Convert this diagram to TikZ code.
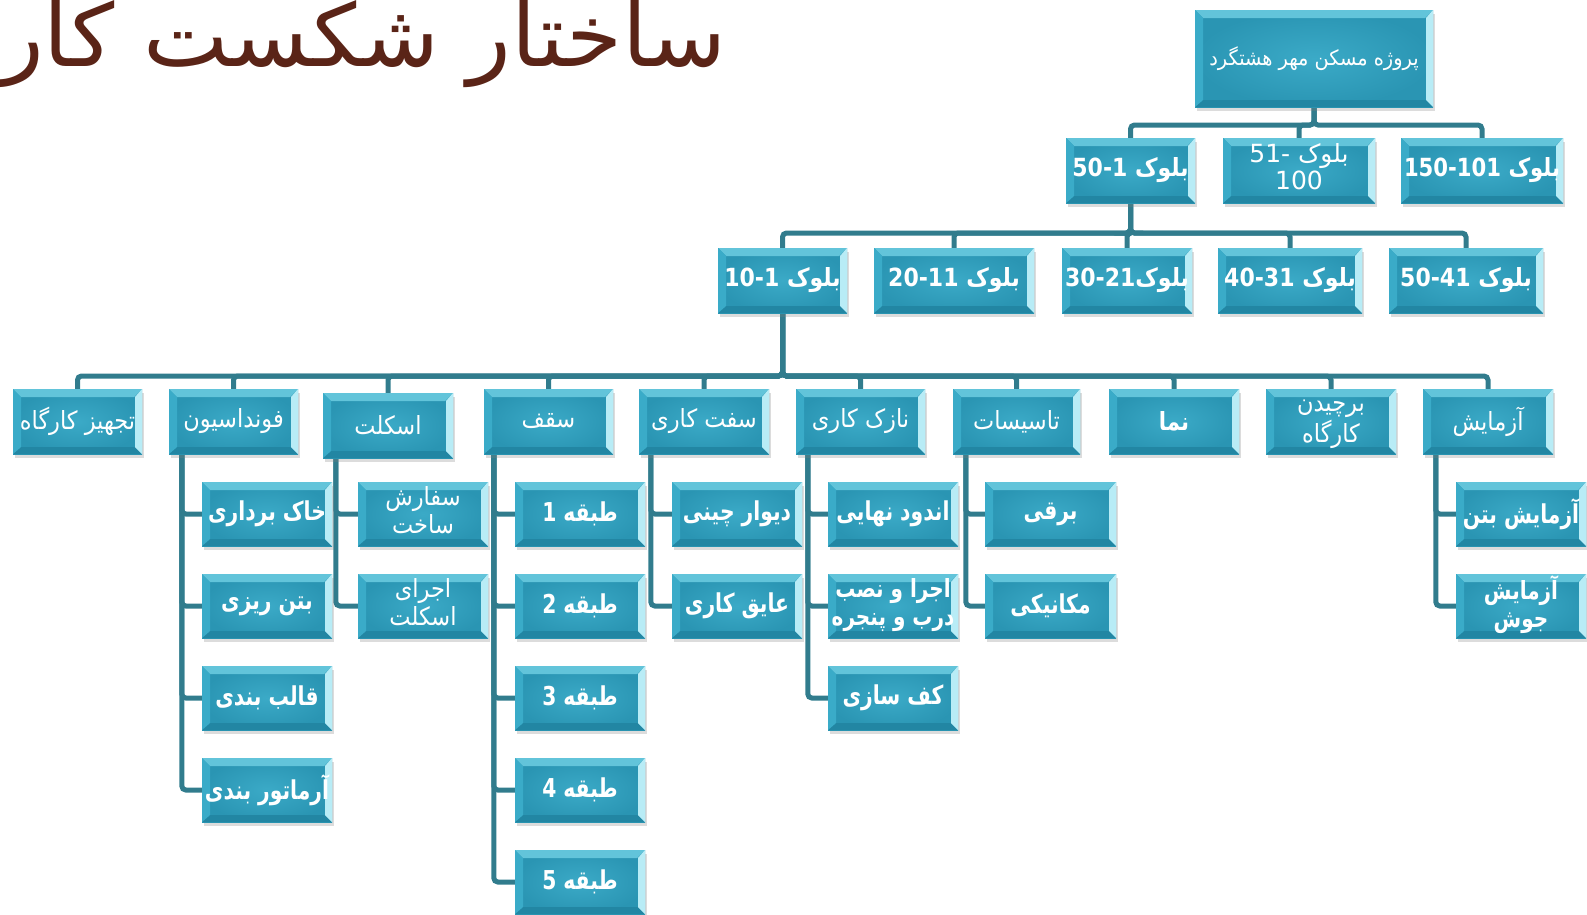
\documentclass[tikz,border=0pt]{standalone}
\usepackage{fontspec}
\usetikzlibrary{shadows,backgrounds}
\TeXXeTstate=1
\newfontfamily\arfont[Script=Arabic]{DejaVu Sans}
\definecolor{boxin}{HTML}{3BAAC7}
\definecolor{boxout}{HTML}{2A95B3}
\definecolor{bevT}{HTML}{62C4DA}
\definecolor{bevL}{HTML}{3AABC8}
\definecolor{bevR}{HTML}{B8ECF6}
\definecolor{bevB}{HTML}{2286A3}
\definecolor{connc}{HTML}{317C8D}
\definecolor{titlec}{HTML}{5A2417}
\newsavebox\fitb
\def\cx{0.8}
% scale text horizontally by \cx, or more if it is still wider than #1
\newcommand\fitw[2]{\sbox\fitb{#2}\ifdim\cx\wd\fitb>#1\resizebox{#1}{\height}{\usebox\fitb}\else\scalebox{\cx}[1]{\usebox\fitb}\fi}
\newcommand\RT[1]{\beginR#1\endR}
\newcommand\twol[2]{\begin{tabular}{@{}c@{}}#1\\#2\end{tabular}}
\newcommand\pb{path picture bounding box}
\tikzset{
  tb/.style={shade, shading=radial, inner color=boxin, outer color=boxout,
    inner sep=0pt, minimum width=129pt, minimum height=65pt,
    text=white, font=\arfont\fontsize{26}{28}\selectfont\bfseries\def\cx{0.78},
    drop shadow={shadow xshift=2pt, shadow yshift=-4pt, opacity=0.28},
    path picture={
      \fill[bevT] (\pb.north west) -- (\pb.north east) -- ([shift={(-8pt,-8pt)}]\pb.north east) -- ([shift={(8pt,-8pt)}]\pb.north west) -- cycle;
      \fill[bevB] (\pb.south west) -- (\pb.south east) -- ([shift={(-7pt,7pt)}]\pb.south east) -- ([shift={(8pt,7pt)}]\pb.south west) -- cycle;
      \fill[bevL] (\pb.north west) -- (\pb.south west) -- ([shift={(8pt,7pt)}]\pb.south west) -- ([shift={(8pt,-8pt)}]\pb.north west) -- cycle;
      \fill[bevR] (\pb.north east) -- (\pb.south east) -- ([shift={(-7pt,7pt)}]\pb.south east) -- ([shift={(-7pt,-8pt)}]\pb.north east) -- cycle;
    }},
  lone/.style={tb, font=\arfont\fontsize{25}{27}\selectfont\bfseries\def\cx{0.88}},
  lthree/.style={tb, font=\arfont\fontsize{25}{28}\selectfont\def\cx{0.9}},
  ltwo/.style={tb, minimum height=64pt, minimum width=130pt, font=\arfont\fontsize{25}{28}\selectfont\def\cx{0.9}},
  lfour/.style={tb, minimum height=64pt, minimum width=130pt},
  conn/.style={draw=connc, line width=5pt, rounded corners=4pt},
}
\begin{document}
\begin{tikzpicture}[x=1pt,y=-1pt]
\useasboundingbox (0,0) rectangle (1587,914);
% title
\node[anchor=base west, text=titlec, font=\arfont\fontsize{118}{118}\selectfont, inner sep=0pt] (title) at (0,66) {\resizebox{726pt}{66pt}{\RT{ساختار شکست کار}}};
% root
\node[tb, minimum width=238pt, minimum height=97pt, font=\arfont\fontsize{21}{24}\selectfont\def\cx{0.92}] (root) at (1314,58.5) {\fitw{224pt}{\RT{پروژه مسکن مهر هشتگرد}}};
% level 1
\node[lone, minimum width=162pt] (b150) at (1482,170.5) {\fitw{156pt}{150-101 بلوک}};
\node[tb, minimum width=152pt, font=\arfont\fontsize{25}{26}\selectfont] (b51) at (1299,170.5) {\twol{-51 بلوک}{100}};
\node[lone] (b1) at (1130.5,170.5) {\fitw{124pt}{50-1 بلوک}};
% level 2
\node[lone] (b10) at (782.5,280.5) {\fitw{124pt}{10-1 بلوک}};
\node[lone, minimum width=160pt] (b20) at (954,280.5) {\fitw{150pt}{20-11 بلوک}};
\node[lone, minimum width=130pt] (b30) at (1127,280.5) {\fitw{126pt}{30-21\RT{بلوک}}};
\node[lone, minimum width=144pt] (b40) at (1290,280.5) {\fitw{138pt}{40-31 بلوک}};
\node[lone, minimum width=154pt] (b50) at (1466,280.5) {\fitw{148pt}{50-41 بلوک}};
% level 3
\node[lthree] (tajhiz) at (77.5,421.5) {\fitw{127pt}{\RT{تجهیز کارگاه}}};
\node[lthree] (fond) at (233.5,421.5) {\fitw{124pt}{\RT{فونداسیون}}};
\node[lthree, minimum width=130pt] (eskelet) at (388,425.5) {\fitw{124pt}{\RT{اسکلت}}};
\node[lthree] (saghf) at (548.5,421.5) {\fitw{124pt}{\RT{سقف}}};
\node[lthree, minimum width=130pt] (saft) at (704,421.5) {\fitw{124pt}{\RT{سفت کاری}}};
\node[lthree] (nazok) at (860.5,421.5) {\fitw{124pt}{\RT{نازک کاری}}};
\node[lthree, minimum width=127pt] (tasis) at (1016.5,421.5) {\fitw{122pt}{\RT{تاسیسات}}};
\node[tb, minimum width=130pt, font=\arfont\fontsize{25}{28}\selectfont\bfseries\def\cx{0.85}] (nama) at (1174,421.5) {\fitw{124pt}{\RT{نما}}};
\node[lthree, minimum width=130pt] (barchidan) at (1331,421.5) {\fitw{124pt}{\twol{\RT{برچیدن}}{\RT{کارگاه}}}};
\node[lthree, minimum width=130pt] (azm) at (1488,421.5) {\fitw{124pt}{\RT{آزمایش}}};
% level 4: foundation
\node[lfour] (f1) at (267,514) {\fitw{128pt}{\RT{خاک برداری}}};
\node[lfour] (f2) at (267,606) {\fitw{124pt}{\RT{بتن ریزی}}};
\node[lfour] (f3) at (267,698) {\fitw{124pt}{\RT{قالب بندی}}};
\node[lfour] (f4) at (267,790) {\fitw{128pt}{\RT{آرماتور بندی}}};
% skeleton
\node[ltwo] (e1) at (423,514) {\fitw{124pt}{\twol{\RT{سفارش}}{\RT{ساخت}}}};
\node[ltwo] (e2) at (423,606) {\fitw{124pt}{\twol{\RT{اجرای}}{\RT{اسکلت}}}};
% roof
\node[lfour] (s1) at (580,514) {\fitw{124pt}{1 \RT{طبقه}}};
\node[lfour] (s2) at (580,606) {\fitw{124pt}{2 \RT{طبقه}}};
\node[lfour] (s3) at (580,698) {\fitw{124pt}{3 \RT{طبقه}}};
\node[lfour] (s4) at (580,790) {\fitw{124pt}{4 \RT{طبقه}}};
\node[lfour] (s5) at (580,882) {\fitw{124pt}{5 \RT{طبقه}}};
% rough work
\node[lfour] (r1) at (737,514) {\fitw{124pt}{\RT{دیوار چینی}}};
\node[lfour] (r2) at (737,606) {\fitw{124pt}{\RT{عایق کاری}}};
% finishing
\node[lfour] (n1) at (893,514) {\fitw{124pt}{\RT{اندود نهایی}}};
\node[lfour, font=\arfont\fontsize{25}{28}\selectfont\bfseries\def\cx{0.8}] (n2) at (893,606) {\fitw{130pt}{\twol{\RT{اجرا و نصب}}{\RT{درب و پنجره}}}};
\node[lfour] (n3) at (893,698) {\fitw{124pt}{\RT{کف سازی}}};
% installations
\node[lfour, minimum width=131pt] (t1) at (1050.5,514) {\fitw{124pt}{\RT{برقی}}};
\node[lfour, minimum width=131pt] (t2) at (1050.5,606) {\fitw{124pt}{\RT{مکانیکی}}};
% tests
\node[lfour] (a1) at (1521,514) {\fitw{127pt}{\RT{آزمایش بتن}}};
\node[lfour, font=\arfont\fontsize{25}{28}\selectfont\bfseries\def\cx{0.8}] (a2) at (1521,606) {\fitw{124pt}{\twol{\RT{آزمایش}}{\RT{جوش}}}};
% connectors
\begin{scope}[on background layer]
\coordinate (busA) at (0,125);
\coordinate (busB) at (0,233);
\coordinate (busC) at (0,376);
\foreach \c in {b1,b51,b150}
  \draw[conn] (root.south) -- (root.south |- busA) -| (\c.north);
\foreach \c in {b10,b20,b30,b40,b50}
  \draw[conn] (b1.south) -- (b1.south |- busB) -| (\c.north);
\foreach \c in {tajhiz,fond,eskelet,saghf,saft,nazok,tasis,nama,barchidan,azm}
  \draw[conn] (b10.south) -- (b10.south |- busC) -| (\c.north);
\foreach \c in {f1,f2,f3,f4}
  \draw[conn] ([xshift=13pt]fond.south west) |- (\c.west);
\foreach \c in {e1,e2}
  \draw[conn] ([xshift=13pt]eskelet.south west) |- (\c.west);
\foreach \c in {s1,s2,s3,s4,s5}
  \draw[conn] ([xshift=10pt]saghf.south west) |- (\c.west);
\foreach \c in {r1,r2}
  \draw[conn] ([xshift=12pt]saft.south west) |- (\c.west);
\foreach \c in {n1,n2,n3}
  \draw[conn] ([xshift=12pt]nazok.south west) |- (\c.west);
\foreach \c in {t1,t2}
  \draw[conn] ([xshift=13pt]tasis.south west) |- (\c.west);
\foreach \c in {a1,a2}
  \draw[conn] ([xshift=13pt]azm.south west) |- (\c.west);
\end{scope}
\end{tikzpicture}
\end{document}
